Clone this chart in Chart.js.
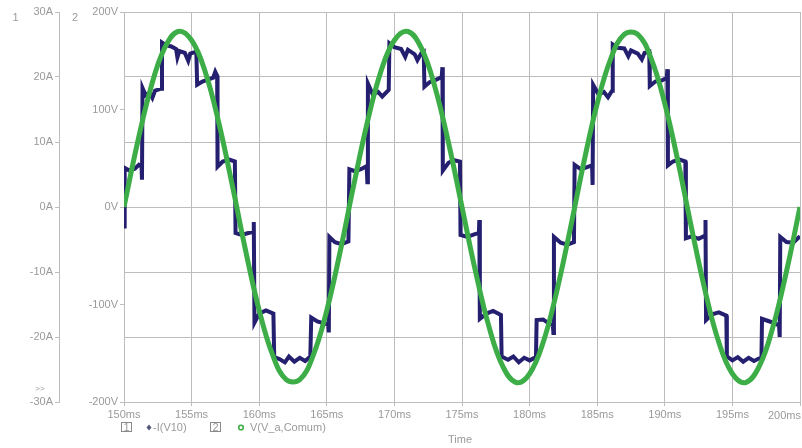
<!DOCTYPE html>
<html><head><meta charset="utf-8">
<script src="https://cdn.jsdelivr.net/npm/chart.js@4.4.1/dist/chart.umd.min.js"></script>
<style>html,body{margin:0;padding:0;background:#fff;}canvas{display:block;}</style>
</head><body>
<canvas id="c" width="802" height="448"></canvas>
<script>
// ---- data ----
const seriesNames = ['-I(V10)', 'V(V_a,Comum)'];
const xTitle = 'Time';
const xTickUnit = 'ms';
const ampUnit = 'A';
const voltUnit = 'V';

const voltTimeMs = [150,151,152,153,154,155,156,157,158,159,160,161,162,163,164,165,166,167,168,169,170,171,172,173,174,175,176,177,178,179,180,181,182,183,184,185,186,187,188,189,190,191,192,193,194,195,196,197,198,199,200];
const voltValues = [0,66,123,163,180,171,139,87,23,-45,-106,-152,-177,-177,-152,-106,-45,23,87,139,171,180,163,123,66,0,-66,-123,-163,-180,-171,-139,-87,-23,45,106,152,177,177,152,106,45,-23,-87,-139,-171,-180,-163,-123,-66,0];

const currentTimeMs = [
150.00,150.05,150.4,150.8,151.1,151.30,151.33,151.37,151.6,151.9,152.1,152.3,152.75,152.81,153.1,153.5,153.85,153.95,154.1,154.5,154.75,154.9,155.35,155.41,155.8,156.2,156.6,156.75,156.89,156.92,157.3,157.8,158.20,158.25,158.7,159.2,159.55,159.60,159.65,160.0,160.5,161.05,161.11,161.5,161.9,162.2,162.6,163.0,163.4,163.78,163.85,164.3,164.8,165.10,165.15,165.19,165.6,166.1,166.60,
166.67,167.1,167.6,167.95,168.00,168.04,168.4,168.8,169.1,169.58,169.63,170.0,170.5,170.8,171.0,171.5,171.7,172.0,172.17,172.22,172.6,173.1,173.50,173.55,173.58,174.0,174.4,174.85,174.89,175.4,175.9,176.25,176.28,176.32,176.8,177.3,177.88,177.93,178.4,178.8,179.2,179.6,180.0,180.47,180.52,181.0,181.4,181.72,181.76,181.80,182.3,182.8,183.28,
183.33,183.8,184.2,184.62,184.66,184.70,185.1,185.5,185.8,186.10,186.15,186.5,187.0,187.3,187.5,188.0,188.3,188.5,188.85,188.89,189.3,189.8,190.15,190.19,190.23,190.6,191.1,191.52,191.56,192.0,192.5,192.98,193.01,193.05,193.5,194.0,194.55,194.59,195.0,195.4,195.8,196.2,196.6,197.15,197.19,197.6,198.0,198.45,198.50,198.54,199.0,199.5,200.0];
const currentAmps = [
-3.0,6.0,5.6,5.9,6.5,6.2,4.2,18.3,17.2,17.6,16.8,17.9,18.2,25.3,24.9,24.7,24.3,23.0,24.0,23.7,22.5,23.6,23.9,18.8,19.3,19.6,19.9,20.8,20.2,6.2,7.0,7.3,7.0,-4.0,-4.3,-4.0,-3.8,-2.3,-17.8,-16.4,-15.9,-16.4,-23.1,-23.4,-23.9,-23.0,-23.8,-23.2,-23.7,-23.0,-17.0,-17.6,-17.9,-18.1,-19.3,-4.6,-5.4,-5.7,-5.3,
5.8,5.5,5.9,6.3,3.8,19.0,17.3,17.7,17.0,18.0,25.2,24.6,24.3,23.1,24.2,23.5,22.6,23.7,23.9,18.5,19.2,19.6,20.0,21.5,5.6,6.8,7.2,7.0,-4.3,-4.6,-4.2,-4.0,-2.0,-17.2,-16.4,-16.0,-16.6,-23.0,-23.5,-23.0,-23.9,-23.2,-23.6,-23.1,-17.4,-17.3,-17.9,-18.2,-19.4,-4.6,-5.5,-5.8,-5.4,
6.5,5.8,6.1,6.4,3.4,18.8,17.3,17.7,16.9,17.9,25.0,24.5,24.4,23.2,24.1,23.6,22.7,23.7,23.9,18.6,19.3,19.5,19.9,21.2,6.4,7.0,7.3,7.0,-4.8,-4.5,-4.9,-4.4,-2.0,-17.4,-16.5,-16.2,-16.7,-23.0,-23.6,-23.1,-23.8,-23.2,-23.7,-23.1,-17.2,-17.5,-17.8,-18.2,-20.0,-4.6,-5.4,-5.5,-4.5];

// ---- styles ----
const FONT = '"Liberation Sans", Arial, sans-serif';
const TEXT = '#9a9a9a';
const GRID = '#bdbdbd';
const NAVY = '#251f70';
const GREEN = '#3dad47';

const voltPts = voltTimeMs.map((t,i)=>({x:t,y:voltValues[i]}));
const curPts = currentTimeMs.map((t,i)=>({x:t,y:currentAmps[i]}));

const extras = {
  id:'extras',
  afterDraw(chart){
    const ctx = chart.ctx;
    const xs = chart.scales.x;
    ctx.save();
    ctx.fillStyle = TEXT;
    ctx.textBaseline = 'middle';
    ctx.font = '11px ' + FONT;
    ctx.textAlign = 'center';
    ctx.fillText('1', 15.5, 18);
    ctx.fillText('2', 75, 18);
    // last x tick label, kept inside the canvas
    ctx.textAlign = 'right';
    ctx.textBaseline = 'top';
    ctx.fillText(xs.max + xTickUnit, xs.getPixelForValue(xs.max) + 1, 410);
    ctx.textBaseline = 'middle';
    ctx.font = '8px ' + FONT;
    ctx.textAlign = 'center';
    ctx.fillText('>>', 40, 389);
    // legend row
    ctx.font = '11px ' + FONT;
    ctx.strokeStyle = '#8a8a8a';
    ctx.lineWidth = 1;
    ctx.strokeRect(121.5, 422.5, 10, 9);
    ctx.strokeRect(210.5, 422.5, 10, 9);
    ctx.fillText('1', 126.5, 427.5);
    ctx.fillText('2', 215.5, 427.5);
    ctx.fillStyle = '#555a7a';
    ctx.beginPath(); ctx.moveTo(149,424.5); ctx.lineTo(151.5,427.5); ctx.lineTo(149,430.5); ctx.lineTo(146.5,427.5); ctx.closePath(); ctx.fill();
    ctx.strokeStyle = GREEN; ctx.lineWidth = 1.6;
    ctx.beginPath(); ctx.arc(241,427.5,2.3,0,Math.PI*2); ctx.stroke();
    ctx.fillStyle = TEXT;
    ctx.textAlign = 'left';
    ctx.fillText(seriesNames[0], 153, 427.5);
    ctx.fillText(seriesNames[1], 250, 427.5);
    ctx.textAlign = 'center';
    ctx.fillText(xTitle, 460, 440);
    ctx.restore();
  }
};

new Chart(document.getElementById('c'), {
  type:'line',
  data:{datasets:[
    {label:seriesNames[1], data:voltPts, yAxisID:'yV', borderColor:GREEN, borderWidth:5, pointRadius:0, tension:0.4, order:0},
    {label:seriesNames[0], data:curPts, yAxisID:'yA', borderColor:NAVY, borderWidth:4, pointRadius:0, tension:0, order:1, borderJoinStyle:'miter'}
  ]},
  options:{
    responsive:false, animation:false, devicePixelRatio:1,
    layout:{padding:{left:0,right:2,top:12,bottom:0}},
    plugins:{legend:{display:false}, tooltip:{enabled:false}},
    scales:{
      x:{type:'linear', min:150, max:200,
         ticks:{stepSize:5, color:TEXT, font:{family:FONT,size:11}, padding:2, maxRotation:0, autoSkip:false,
                callback:(v)=> v===200 ? '' : v + xTickUnit},
         grid:{color:GRID, tickLength:4, drawOnChartArea:true},
         border:{display:true, color:GRID},
         afterFit:(s)=>{ s.height = 46; s.paddingLeft = 0; s.paddingRight = 0; }},
      yA:{type:'linear', position:'left', weight:2, min:-30, max:30,
         ticks:{stepSize:10, color:TEXT, font:{family:FONT,size:11}, padding:2, callback:(v)=> v + ampUnit},
         grid:{color:GRID, tickLength:4, drawOnChartArea:true},
         border:{display:true, color:GRID},
         afterFit:(s)=>{ s.width = 59; s.paddingTop = 0; s.paddingBottom = 0; }},
      yV:{type:'linear', position:'left', weight:1, min:-200, max:200,
         ticks:{stepSize:100, color:TEXT, font:{family:FONT,size:11}, padding:2, callback:(v)=> v + voltUnit},
         grid:{color:GRID, tickLength:4, drawOnChartArea:false},
         border:{display:true, color:GRID},
         afterFit:(s)=>{ s.width = 65; s.paddingTop = 0; s.paddingBottom = 0; }}
    }
  },
  plugins:[extras]
});
</script>
</body></html>
